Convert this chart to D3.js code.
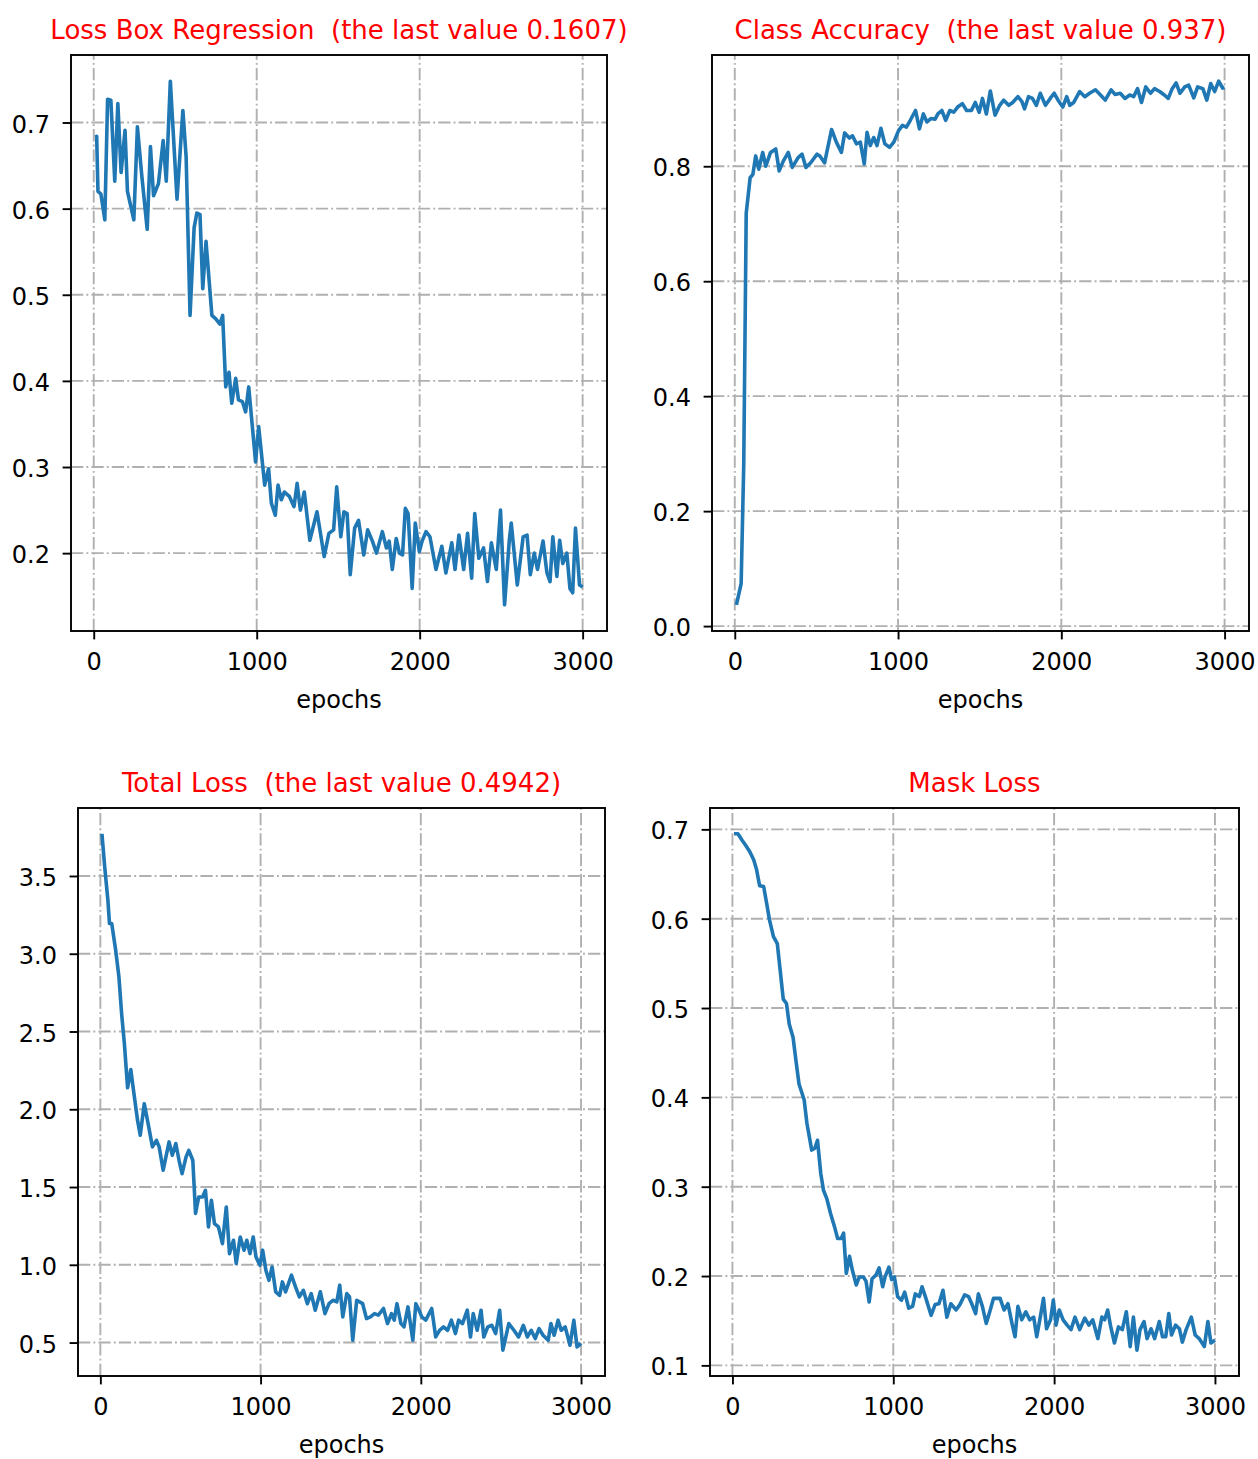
<!DOCTYPE html>
<html lang="en">
<head>
  <meta charset="UTF-8" />
  <title>training curves</title>
  <script src="https://d3js.org/d3.v7.min.js"></script>
  <style>
    body { margin: 0; background: #fff; }
    text { font-family: "DejaVu Sans", sans-serif; }
  </style>
</head>
<body>

<script type="text/javascript">

// [epoch, value]
var boxLoss = [
[10,0.683],[18,0.684],[26,0.62],[44,0.617],[68,0.587],[85,0.727],[105,0.726],[129,0.632],[148,0.722],[168,0.642],
[192,0.691],[207,0.62],[246,0.587],[268,0.695],[294,0.64],[328,0.576],[348,0.672],[367,0.615],[397,0.629],[426,0.679],
[445,0.632],[470,0.748],[511,0.611],[547,0.714],[567,0.66],[591,0.476],[616,0.578],[633,0.595],[652,0.593],[669,0.507],
[689,0.562],[725,0.476],[749,0.472],[774,0.466],[791,0.476],[810,0.393],[830,0.41],[847,0.374],[871,0.403],[888,0.378],
[912,0.376],[932,0.364],[951,0.393],[993,0.306],[1012,0.347],[1049,0.279],[1073,0.298],[1090,0.258],[1114,0.244],[1131,0.279],
[1151,0.262],[1170,0.271],[1200,0.266],[1229,0.254],[1248,0.281],[1268,0.25],[1292,0.271],[1326,0.215],[1370,0.248],[1414,0.196],
[1443,0.223],[1472,0.227],[1491,0.277],[1516,0.219],[1535,0.248],[1555,0.246],[1574,0.175],[1601,0.229],[1625,0.238],[1657,0.198],
[1681,0.227],[1710,0.214],[1735,0.2],[1771,0.225],[1796,0.206],[1813,0.214],[1832,0.181],[1856,0.217],[1876,0.2],[1895,0.198],
[1912,0.252],[1929,0.246],[1954,0.159],[1973,0.235],[1998,0.202],[2015,0.214],[2039,0.225],[2063,0.219],[2100,0.181],[2136,0.208],
[2161,0.177],[2197,0.212],[2217,0.181],[2241,0.221],[2270,0.181],[2294,0.223],[2319,0.171],[2338,0.246],[2363,0.194],[2392,0.206],
[2416,0.167],[2440,0.212],[2470,0.181],[2496,0.25],[2521,0.14],[2550,0.215],[2562,0.235],[2599,0.163],[2635,0.219],[2659,0.221],
[2679,0.175],[2703,0.2],[2723,0.181],[2757,0.214],[2781,0.177],[2800,0.167],[2817,0.219],[2842,0.173],[2859,0.215],[2878,0.188],
[2903,0.2],[2922,0.159],[2939,0.154],[2956,0.229],[2981,0.163],[3000,0.1607]
];

var classAcc = [
[10,0.037],[39,0.074],[55,0.282],[70,0.718],[94,0.78],[111,0.786],[128,0.818],[147,0.795],[171,0.824],[190,0.8],
[219,0.824],[251,0.83],[272,0.792],[297,0.809],[328,0.824],[352,0.798],[388,0.815],[412,0.821],[436,0.798],[465,0.806],
[504,0.821],[521,0.818],[550,0.806],[593,0.864],[622,0.842],[653,0.824],[673,0.858],[702,0.849],[721,0.853],[745,0.839],
[769,0.842],[793,0.804],[810,0.859],[830,0.836],[851,0.85],[871,0.836],[895,0.866],[919,0.839],[948,0.833],[974,0.842],
[1003,0.862],[1027,0.871],[1051,0.868],[1075,0.88],[1107,0.897],[1131,0.865],[1155,0.891],[1177,0.877],[1201,0.883],[1227,0.882],
[1244,0.891],[1268,0.897],[1292,0.88],[1317,0.897],[1341,0.894],[1365,0.903],[1394,0.909],[1420,0.897],[1449,0.897],[1473,0.911],
[1497,0.894],[1517,0.918],[1541,0.891],[1565,0.931],[1594,0.889],[1623,0.906],[1647,0.915],[1678,0.906],[1702,0.911],[1734,0.921],
[1758,0.913],[1775,0.9],[1799,0.921],[1823,0.918],[1847,0.906],[1871,0.927],[1903,0.906],[1932,0.918],[1956,0.927],[1980,0.915],
[2009,0.903],[2033,0.921],[2052,0.906],[2076,0.911],[2112,0.93],[2144,0.921],[2173,0.927],[2209,0.933],[2240,0.924],[2269,0.915],
[2305,0.933],[2329,0.925],[2361,0.927],[2390,0.918],[2419,0.924],[2443,0.921],[2467,0.935],[2491,0.911],[2517,0.938],[2546,0.927],
[2571,0.935],[2602,0.93],[2631,0.924],[2655,0.918],[2679,0.935],[2703,0.945],[2727,0.927],[2756,0.938],[2780,0.941],[2811,0.919],
[2835,0.938],[2867,0.935],[2891,0.915],[2915,0.944],[2939,0.93],[2964,0.948],[2988,0.936],[3000,0.937]
];

var totalLoss = [
[10,3.771],[27,3.56],[47,3.345],[57,3.194],[71,3.194],[96,3.02],[116,2.85],[133,2.612],[150,2.42],[170,2.138],
[190,2.256],[207,2.12],[232,1.93],[249,1.833],[274,2.036],[298,1.908],[325,1.758],[350,1.8],[367,1.758],[392,1.608],
[429,1.79],[449,1.704],[471,1.78],[491,1.672],[510,1.586],[535,1.694],[552,1.736],[577,1.672],[594,1.33],[614,1.436],
[638,1.436],[656,1.479],[675,1.244],[693,1.415],[712,1.265],[737,1.244],[762,1.136],[786,1.372],[806,1.072],[831,1.158],
[848,1.008],[873,1.179],[897,1.094],[914,1.158],[934,1.072],[954,1.179],[971,1.051],[996,0.997],[1013,1.094],[1033,0.965],
[1052,0.9],[1072,0.986],[1094,0.826],[1119,0.804],[1136,0.89],[1156,0.826],[1193,0.933],[1218,0.858],[1242,0.794],[1267,0.836],
[1292,0.75],[1316,0.815],[1341,0.708],[1373,0.826],[1402,0.686],[1427,0.75],[1452,0.772],[1476,0.762],[1494,0.869],[1513,0.665],
[1538,0.815],[1555,0.794],[1575,0.515],[1600,0.772],[1637,0.75],[1661,0.654],[1686,0.665],[1711,0.686],[1735,0.676],[1767,0.719],
[1792,0.622],[1817,0.686],[1834,0.644],[1851,0.75],[1876,0.622],[1895,0.601],[1920,0.729],[1950,0.515],[1969,0.75],[1989,0.708],
[2006,0.665],[2031,0.644],[2068,0.719],[2093,0.536],[2117,0.579],[2142,0.601],[2167,0.579],[2191,0.644],[2216,0.558],[2236,0.644],
[2260,0.622],[2290,0.708],[2310,0.536],[2327,0.686],[2352,0.579],[2376,0.708],[2393,0.536],[2418,0.601],[2443,0.611],[2467,0.558],
[2492,0.708],[2512,0.451],[2549,0.622],[2581,0.579],[2610,0.536],[2640,0.611],[2665,0.536],[2689,0.579],[2714,0.526],[2738,0.59],
[2763,0.547],[2795,0.515],[2812,0.622],[2832,0.547],[2857,0.644],[2876,0.579],[2901,0.601],[2931,0.483],[2955,0.644],[2975,0.472],
[3000,0.4942]
];

var maskLoss = [
[10,0.695],[34,0.695],[59,0.688],[83,0.682],[108,0.675],[132,0.666],[150,0.655],[169,0.637],[194,0.636],[213,0.617],
[230,0.599],[255,0.58],[279,0.572],[297,0.542],[316,0.51],[336,0.505],[353,0.482],[377,0.467],[395,0.441],[414,0.415],
[446,0.397],[463,0.371],[493,0.341],[512,0.343],[529,0.352],[549,0.315],[566,0.296],[586,0.287],[610,0.27],[635,0.255],
[654,0.242],[676,0.242],[691,0.248],[708,0.203],[728,0.222],[745,0.207],[770,0.19],[789,0.199],[814,0.199],[831,0.194],
[850,0.171],[868,0.197],[892,0.201],[912,0.209],[934,0.188],[949,0.199],[973,0.21],[990,0.196],[1007,0.199],[1027,0.177],
[1051,0.173],[1071,0.182],[1096,0.164],[1120,0.166],[1137,0.18],[1162,0.177],[1179,0.188],[1203,0.175],[1235,0.156],[1260,0.168],
[1284,0.169],[1309,0.184],[1333,0.154],[1358,0.169],[1390,0.162],[1414,0.168],[1444,0.179],[1468,0.177],[1488,0.169],[1512,0.158],
[1529,0.18],[1554,0.166],[1578,0.147],[1603,0.162],[1623,0.175],[1664,0.175],[1689,0.162],[1713,0.169],[1738,0.147],[1757,0.132],
[1775,0.166],[1799,0.151],[1824,0.16],[1848,0.151],[1873,0.154],[1892,0.132],[1914,0.154],[1934,0.175],[1953,0.141],[1978,0.151],
[1995,0.173],[2012,0.145],[2032,0.162],[2056,0.151],[2081,0.145],[2105,0.14],[2130,0.154],[2159,0.14],[2191,0.153],[2216,0.145],
[2240,0.151],[2272,0.13],[2297,0.154],[2314,0.151],[2333,0.162],[2350,0.145],[2375,0.125],[2400,0.143],[2424,0.14],[2449,0.16],
[2473,0.121],[2493,0.154],[2515,0.117],[2534,0.14],[2559,0.149],[2578,0.13],[2603,0.141],[2625,0.13],[2654,0.149],[2674,0.132],
[2694,0.132],[2713,0.158],[2730,0.134],[2755,0.145],[2779,0.141],[2797,0.126],[2821,0.14],[2853,0.154],[2877,0.134],[2902,0.13],
[2934,0.121],[2956,0.149],[2975,0.125],[3000,0.128]
];

var xTicks = [0, 1000, 2000, 3000];
var boxTicks = [0.2, 0.3, 0.4, 0.5, 0.6, 0.7];
var accTicks = [0.0, 0.2, 0.4, 0.6, 0.8];
var totalTicks = [0.5, 1.0, 1.5, 2.0, 2.5, 3.0, 3.5];
var maskTicks = [0.1, 0.2, 0.3, 0.4, 0.5, 0.6, 0.7];

var titles = [
  "Loss Box Regression  (the last value 0.1607)",
  "Class Accuracy  (the last value 0.937)",
  "Total Loss  (the last value 0.4942)",
  "Mask Loss"
];
var xLabel = "epochs";

var svg = d3.select("body")
  .append("svg")
  .attr("width", 1258)
  .attr("height", 1459);

svg.append("rect").attr("width", 1258).attr("height", 1459).attr("fill", "#fff");

// axes boxes in page pixels
var panels = [
  {data: boxLoss,   ticks: boxTicks,   title: titles[0], left: 71,  right: 607,  top: 55,  bottom: 631},
  {data: classAcc,  ticks: accTicks,   title: titles[1], left: 712, right: 1249, top: 55,  bottom: 631},
  {data: totalLoss, ticks: totalTicks, title: titles[2], left: 78,  right: 605,  top: 808, bottom: 1376},
  {data: maskLoss,  ticks: maskTicks,  title: titles[3], left: 710, right: 1239, top: 808, bottom: 1376}
];

// matplotlib style 5% margins
function padded(ext) {
  var m = (ext[1] - ext[0]) * 0.05;
  return [ext[0] - m, ext[1] + m];
}

var fontSize = 24;

panels.forEach(function(p) {

  var x = d3.scaleLinear()
    .domain(padded(d3.extent(p.data, function(d) { return d[0]; })))
    .range([p.left, p.right]);

  var y = d3.scaleLinear()
    .domain(padded(d3.extent(p.data, function(d) { return d[1]; })))
    .range([p.bottom, p.top]);

  var g = svg.append("g");

  //grid
  g.selectAll(".vgrid")
    .data(xTicks)
    .enter().append("line")
    .attr("x1", function(d) { return x(d); })
    .attr("x2", function(d) { return x(d); })
    .attr("y1", p.bottom)
    .attr("y2", p.top)
    .attr("stroke", "#b0b0b0")
    .attr("stroke-width", 1.9)
    .attr("stroke-dasharray", "12.3,3.1,1.9,3.1");

  g.selectAll(".hgrid")
    .data(p.ticks)
    .enter().append("line")
    .attr("x1", p.left)
    .attr("x2", p.right)
    .attr("y1", function(d) { return y(d); })
    .attr("y2", function(d) { return y(d); })
    .attr("stroke", "#b0b0b0")
    .attr("stroke-width", 1.9)
    .attr("stroke-dasharray", "12.3,3.1,1.9,3.1");

  //the curve
  var line = d3.line()
    .x(function(d) { return x(d[0]); })
    .y(function(d) { return y(d[1]); });

  g.append("path")
    .datum(p.data)
    .attr("d", line)
    .attr("fill", "none")
    .attr("stroke", "#1f77b4")
    .attr("stroke-width", 3.6)
    .attr("stroke-linejoin", "round");

  //frame
  g.append("rect")
    .attr("x", p.left)
    .attr("y", p.top)
    .attr("width", p.right - p.left)
    .attr("height", p.bottom - p.top)
    .attr("fill", "none")
    .attr("stroke", "#000")
    .attr("stroke-width", 1.9);

  //axes
  var gx = g.append("g")
    .attr("transform", "translate(0," + p.bottom + ")")
    .call(d3.axisBottom(x).tickValues(xTicks).tickFormat(d3.format("d"))
      .tickSize(8.4).tickSizeOuter(0).tickPadding(13.5));

  var gy = g.append("g")
    .attr("transform", "translate(" + p.left + ",0)")
    .call(d3.axisLeft(y).tickValues(p.ticks).tickFormat(d3.format(".1f"))
      .tickSize(8.4).tickSizeOuter(0).tickPadding(12.6));

  [gx, gy].forEach(function(a) {
    a.select(".domain").remove();
    a.selectAll(".tick line").attr("stroke", "#000").attr("stroke-width", 1.9);
    a.selectAll(".tick text")
      .attr("fill", "#000")
      .attr("font-family", "DejaVu Sans")
      .attr("font-size", fontSize);
  });
  gy.selectAll(".tick text").attr("dy", "0.4em");

  //titles and label
  g.append("text")
    .attr("x", (p.left + p.right) / 2)
    .attr("y", p.top - 16)
    .attr("text-anchor", "middle")
    .attr("font-size", 26)
    .attr("fill", "#ff0000")
    .style("white-space", "pre")
    .text(p.title);

  g.append("text")
    .attr("x", (p.left + p.right) / 2)
    .attr("y", p.bottom + 77)
    .attr("text-anchor", "middle")
    .attr("font-size", fontSize)
    .attr("fill", "#000")
    .text(xLabel);
});

</script>
</body>
</html>
